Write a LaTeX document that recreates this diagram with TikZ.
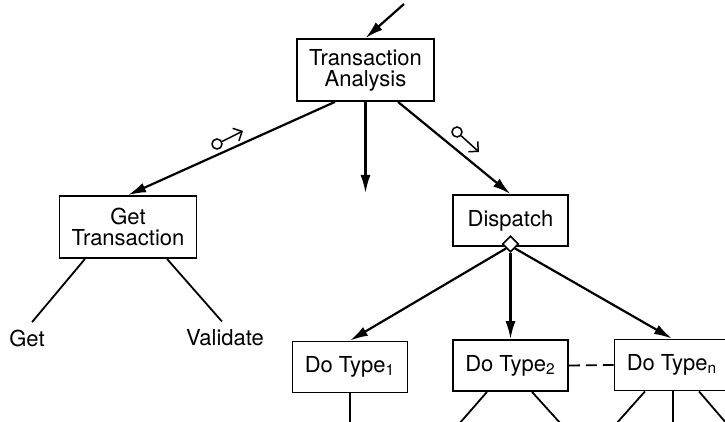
\documentclass[tikz,border=0pt]{standalone}
\usepackage{fontspec}
\setmainfont{TeX Gyre Heros}
\usetikzlibrary{arrows.meta,calc,shapes.geometric}
\begin{document}
\begin{tikzpicture}[x=0.5pt,y=-0.5pt,
  box/.style={draw,line width=0.9pt,align=center,inner sep=0pt,font=\fontsize{11pt}{10.5pt}\selectfont},
  bigbox/.style={box,minimum width=68.5pt,minimum height=31pt},
  smallbox/.style={box,minimum width=57.5pt,minimum height=25.5pt},
  arr/.style={line width=1.1pt,-{Latex[length=9pt,width=5pt]}},
  thinline/.style={line width=0.9pt},
  lbl/.style={font=\fontsize{11pt}{10.5pt}\selectfont,inner sep=4pt},
  flagc/.style={draw,circle,line width=0.75pt,minimum size=5pt,inner sep=0pt},
  flagarr/.style={line width=0.75pt,-{Straight Barb[length=3.5pt,width=7pt]}},
  dia/.style={diamond,draw,fill=white,line width=0.8pt,minimum width=8pt,minimum height=8pt,inner sep=0pt}
]
\useasboundingbox (0,0) rectangle (725,422);
\fill[white] (0,0) rectangle (725,422);
\clip (0,0) rectangle (725,422);

% boxes
\node[bigbox] (ta) at (365.5,70) {Transaction\\Analysis};
\node[bigbox] (gt) at (128,227) {Get\\Transaction};
\node[smallbox] (dis) at (510.5,220.5) {Dispatch};
\node[smallbox] (dt1) at (350,367) {Do Type\textsubscript{1}};
\node[smallbox] (dt2) at (510.5,365.5) {Do Type\textsubscript{2}};
\node[smallbox] (dtn) at (672,365) {Do Type\textsubscript{n}};
\node[dia] (sel) at (510.5,244) {};

% labels
\node[lbl,anchor=base] (get) at (27,347) {Get};
\node[lbl,anchor=base] (val) at (225,346) {Validate};

% free ends
\coordinate (in) at (404,4);
\coordinate (mid) at (365.5,193);
\coordinate (b1) at (350,424);
\coordinate (b2a) at (459,424);
\coordinate (b2b) at (561,424);
\coordinate (bna) at (616,424);
\coordinate (bnb) at (673,424);
\coordinate (bnc) at (727,424);

% arrows
\draw[arr] (in) -- (ta.north);
\draw[arr] ($(ta.south)+(-30.5,0)$) -- (gt.north);
\draw[arr] (ta.south) -- (mid);
\draw[arr] ($(ta.south)+(32.5,0)$) -- (dis.north);
\draw[arr] (sel.south west) -- (dt1.north);
\draw[arr] (sel.south) -- (dt2.north);
\draw[arr] (sel.south east) -- (dtn.north);
\draw[thinline,dash pattern=on 5.5pt off 3pt] (dt2.east) -- (dtn.west);

% couples
\node[flagc] (f1) at (217,144) {};
\draw[flagarr] (f1) -- ($(f1)+(26,-13)$);
\node[flagc] (f2) at (457,132) {};
\draw[flagarr] (f2) -- ($(f2)+(22,20)$);

% plain lines
\draw[thinline] ($(gt.south)+(-43,0)$) -- ([xshift=2.5pt]get.north);
\draw[thinline] ($(gt.south)+(39,0)$) -- ([xshift=-1.5pt]val.north);
\draw[thinline] (dt1.south) -- (b1);
\draw[thinline] ($(dt2.south)+(-23.5,0)$) -- (b2a);
\draw[thinline] ($(dt2.south)+(21.5,0)$) -- (b2b);
\draw[thinline] ($(dtn.south)+(-27,0)$) -- (bna);
\draw[thinline] ($(dtn.south)+(1,0)$) -- (bnb);
\draw[thinline] ($(dtn.south)+(27,0)$) -- (bnc);
\end{tikzpicture}
\end{document}
